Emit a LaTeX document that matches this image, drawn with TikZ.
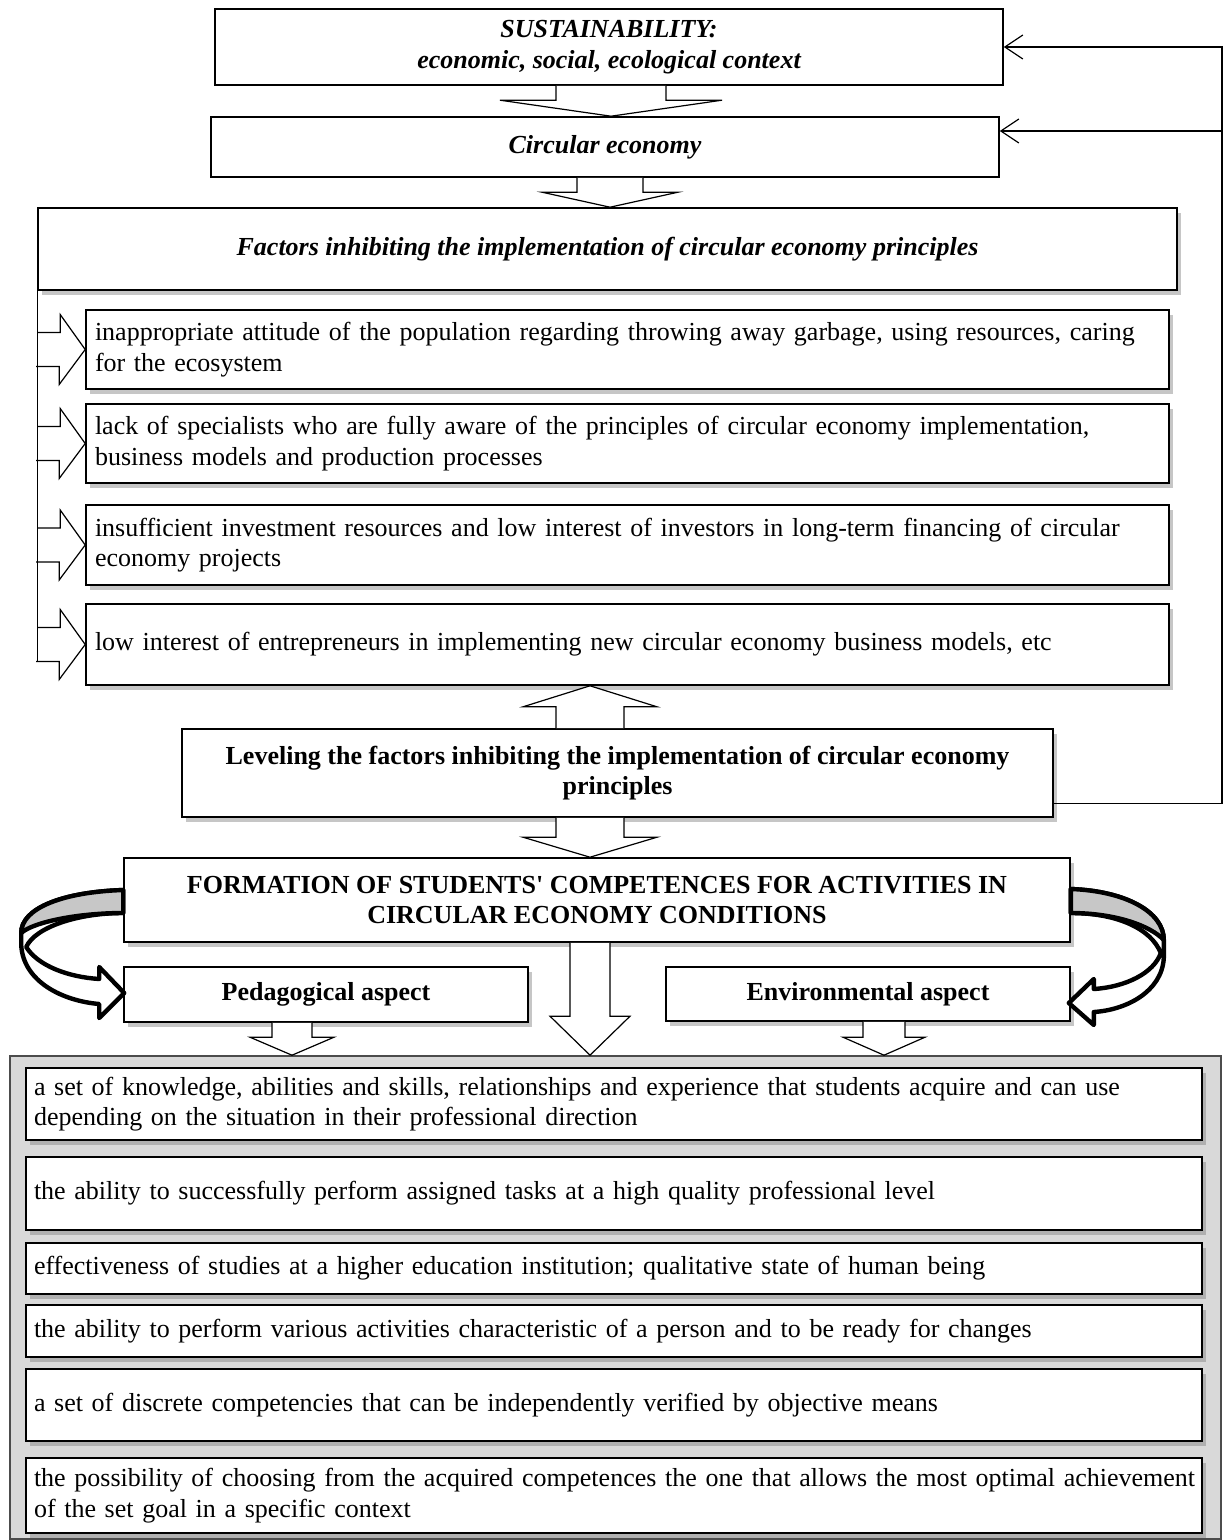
\documentclass[tikz,border=0pt]{standalone}
\usepackage{fontspec}
\setmainfont{Liberation Serif}
\usetikzlibrary{arrows.meta,shadows,calc}

\newcommand{\sz}{\fontsize{13}{15.2}\selectfont}

\tikzset{
  box/.style={draw, line width=0.8pt, fill=white, inner sep=0pt, align=center, font=\sz},
  shbox/.style={box, drop shadow={shadow xshift=2pt, shadow yshift=-2.5pt, opacity=.45}},
  head/.style={font=\sz\bfseries\itshape},
  bold/.style={font=\sz\bfseries},
  item/.style={shbox, align=left, inner xsep=4.5pt, text width=532.5pt},
  gitem/.style={shbox, align=left, inner xsep=4pt, text width=580pt},
  blk/.style={draw, line width=0.6pt, fill=white, line join=miter},
  fb/.style={line width=0.6pt, -{Straight Barb[length=9pt,width=12pt]}},
  swirl/.style={line width=2.2pt, line join=round}
}

\begin{document}
\begin{tikzpicture}[x=0.5pt,y=-0.5pt]
  \useasboundingbox (0,0) rectangle (1224,1540);

  % upper part
  \node[box, head, minimum width=394pt, minimum height=38pt] (sust) at (609,47) {SUSTAINABILITY:\\economic, social, ecological context};
  \node[box, head, minimum width=394pt, minimum height=30pt] (circ) at (605,147) {Circular economy};
  \node[shbox, head, minimum width=569.5pt, minimum height=41pt] (fact) at (607.5,249) {Factors inhibiting the implementation of circular economy principles};

  \node[item, minimum height=39.5pt] (f1) at (627.5,349.5) {inappropriate attitude of the population regarding throwing away garbage, using resources, caring\\for the ecosystem};
  \node[item, minimum height=39.5pt] (f2) at (627.5,443.5) {lack of specialists who are fully aware of the principles of circular economy implementation,\\business models and production processes};
  \node[item, minimum height=40pt] (f3) at (627.5,545) {insufficient investment resources and low interest of investors in long-term financing of circular\\economy projects};
  \node[item, minimum height=40.5pt] (f4) at (627.5,644.5) {low interest of entrepreneurs in implementing new circular economy business models, etc};

  \node[shbox, bold, minimum width=435.5pt, minimum height=44pt] (level) at (617.5,773) {Leveling the factors inhibiting the implementation of circular economy\\principles};
  \node[shbox, bold, minimum width=473pt, minimum height=42pt] (form) at (597,900) {FORMATION OF STUDENTS\textquotesingle{} COMPETENCES FOR ACTIVITIES IN\\CIRCULAR ECONOMY CONDITIONS};
  \node[shbox, bold, minimum width=202pt, minimum height=27.5pt] (ped) at (326,994.5) {Pedagogical aspect};
  \node[shbox, bold, minimum width=202pt, minimum height=27pt] (env) at (868,994) {Environmental aspect};

  % lower part
  \node[draw=black!70, fill=black!15, line width=0.8pt, inner sep=0pt, minimum width=605.5pt, minimum height=241.5pt] (grey) at (615.5,1297.5) {};
  \node[gitem, minimum height=36pt] (g1) at (614,1104) {a set of knowledge, abilities and skills, relationships and experience that students acquire and can use\\depending on the situation in their professional direction};
  \node[gitem, minimum height=36.5pt] (g2) at (614,1193.5) {the ability to successfully perform assigned tasks at a high quality professional level};
  \node[gitem, minimum height=25.5pt] (g3) at (614,1268.5) {effectiveness of studies at a higher education institution; qualitative state of human being};
  \node[gitem, minimum height=26pt] (g4) at (614,1331) {the ability to perform various activities characteristic of a person and to be ready for changes};
  \node[gitem, minimum height=36pt] (g5) at (614,1405) {a set of discrete competencies that can be independently verified by objective means};
  \node[gitem, minimum height=37.5pt] (g6) at (614,1495.5) {\mbox{the possibility of choosing from the acquired competences the one that allows the most optimal achievement}\\of the set goal in a specific context};

  % block arrows
  \foreach \cx/\tip/\base/\sw/\hw/\hl in {611/circ.north/sust.south/55/111/-16, 610/fact.north/circ.south/33/68/-15,
      590/f4.south/level.north/34/67/21, 590/form.north/level.south/34/67/-20, 590/grey.north/form.south/20/40/-39,
      292/grey.north/ped.south/20/42/-18, 884/grey.north/env.south/21/41/-18}
    \draw[blk] (\cx-\sw,0 |- \base) -- ($(\cx-\sw,0 |- \tip)+(0,\hl)$) -- ++(\sw-\hw,0) -- (\cx,0 |- \tip)
      -- ++(\hw,\hl) -- ++(\sw-\hw,0) -- (\cx+\sw,0 |- \base);

  % arrows to the factors
  \foreach \n in {f1,f2,f3,f4}
    \draw[blk] (fact.south west |- \n.west) ++(0,-17) -- ++(23,0) -- ++(0,-18) -- (\n.west)
      -- ++(-26,35) -- ++(0,-18) -- ++(-23,0);
  \draw[line width=0.6pt] (fact.south west) -- ($(fact.south west |- f4.west)+(0,17)$);

  % feedback
  \coordinate (fbtop) at (1222,0 |- sust.east);
  \coordinate (circin) at ([yshift=8pt]circ.east);
  \draw[fb] ([yshift=7pt]level.south east) -| (fbtop) -- (sust.east);
  \draw[fb] (circin -| fbtop) -- (circin);

  % curved arrows
  \begin{scope}[shift={(form.west)}]
    \draw[swirl, fill=white] (0,-10) .. controls (-60,-8) and (-102,8) .. (-102,33) -- (-102,45)
      .. controls (-100,82) and (-60,101) .. (-24,104) -- (-24,118) -- (1,93) -- (-24,67) -- (-24,79)
      .. controls (-55,77) and (-85,66) .. (-97,47) .. controls (-88,27) and (-45,13) .. (0,13) -- cycle;
    \draw[swirl, fill=black!22] (0,-10) .. controls (-60,-8) and (-102,8) .. (-102,33)
      .. controls (-90,22) and (-45,13) .. (0,13) -- cycle;
  \end{scope}
  \begin{scope}[shift={(form.east)}]
    \draw[swirl, fill=white] (0,-11) .. controls (55,-9) and (93,12) .. (93,40) -- (93,58)
      .. controls (91,92) and (55,110) .. (23,112) -- (23,125) -- (-2,103) -- (23,79) -- (23,89)
      .. controls (55,87) and (83,73) .. (90,53) .. controls (80,28) and (45,13) .. (0,13) -- cycle;
    \draw[swirl, fill=black!22] (0,-11) .. controls (55,-9) and (93,12) .. (93,40)
      .. controls (80,26) and (45,13) .. (0,13) -- cycle;
  \end{scope}

\end{tikzpicture}
\end{document}
